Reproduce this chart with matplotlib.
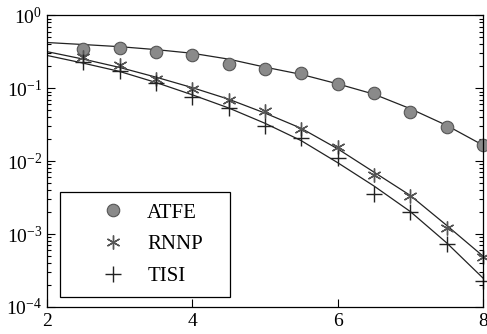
import matplotlib
matplotlib.use("Agg")
from matplotlib import pyplot as plt
from matplotlib.ticker import LogLocator, NullFormatter

plt.rcParams['font.family'] = ['Liberation Serif', 'DejaVu Serif']
plt.rcParams['mathtext.fontset'] = 'custom'
plt.rcParams['mathtext.rm'] = 'Liberation Serif'
plt.rcParams['mathtext.it'] = 'Liberation Serif:italic'

# data points
x_pts = [2.5, 3, 3.5, 4, 4.5, 5, 5.5, 6, 6.5, 7, 7.5, 8]
atfe = [0.35, 0.36, 0.31, 0.29, 0.214, 0.185, 0.161, 0.115, 0.086, 0.047, 0.029, 0.0167]
rnnp = [0.27, 0.21, 0.133, 0.097, 0.068, 0.049, 0.028, 0.0154, 0.0065, 0.0033, 0.0012, 0.00048]
tisi = [0.23, 0.17, 0.117, 0.075, 0.053, 0.030, 0.021, 0.0112, 0.0035, 0.0020, 0.00074, 0.00023]

# fitted curves
x_fit = [2, 2.5, 3, 3.5, 4, 4.5, 5, 5.5, 6, 6.5, 7, 7.5, 8]
atfe_fit = [0.424, 0.398, 0.372, 0.339, 0.302, 0.251, 0.195, 0.155, 0.115, 0.083, 0.0525, 0.031, 0.0166]
rnnp_fit = [0.318, 0.251, 0.193, 0.142, 0.102, 0.0708, 0.0457, 0.0282, 0.0148, 0.00708, 0.00339, 0.00132, 0.00050]
tisi_fit = [0.282, 0.221, 0.170, 0.120, 0.0813, 0.0537, 0.0331, 0.0191, 0.00955, 0.00457, 0.00204, 0.00076, 0.00025]

fig = plt.figure(figsize=(4.87, 3.34), dpi=100)
ax = fig.add_axes([0.0965, 0.081, 0.895, 0.873])

#拟合曲线
ax.plot(x_fit, atfe_fit, color='#222222', lw=0.9)
ax.plot(x_fit, rnnp_fit, color='#222222', lw=0.9)
ax.plot(x_fit, tisi_fit, color='#222222', lw=0.9)

#数据点
ax.plot(x_pts, atfe, 'o', ms=9, mfc='#8a8a8a', mec='#555555', mew=0.8, label='ATFE', clip_on=False)
ax.plot(x_pts, rnnp, ls='none', marker=(6, 2, 0), ms=10, mec='#555555', mew=1.0, label='RNNP', clip_on=False)
ax.plot(x_pts, tisi, '+', ms=12, mec='#222222', mew=1.0, label='TISI', clip_on=False)

ax.set_yscale('log')
ax.set_xlim(2, 8)
ax.set_ylim(1e-4, 1)
ax.set_xticks([2, 4, 6, 8])
ax.yaxis.set_major_locator(LogLocator(base=10, numticks=10))
ax.yaxis.set_minor_locator(LogLocator(base=10, subs=range(2, 10), numticks=10))
ax.yaxis.set_minor_formatter(NullFormatter())

ax.tick_params(axis='both', which='both', direction='in', labelsize=14, width=0.8)
ax.tick_params(axis='y', which='both', left=True, right=True)
ax.tick_params(axis='y', which='major', length=6)
ax.tick_params(axis='y', which='minor', length=3)
ax.tick_params(axis='x', which='major', length=6, pad=4)
for s in ax.spines.values():
    s.set_linewidth(0.9)

#图例
leg = ax.legend(loc='lower left', bbox_to_anchor=(0.03, 0.034, 0.39, 0.35), mode='expand',
                borderaxespad=0, fontsize=15, fancybox=False, edgecolor='black', framealpha=1,
                handlelength=4.0, handletextpad=-0.35, borderpad=0.53, labelspacing=0.58)
leg.get_frame().set_linewidth(0.9)

plt.savefig('out.png', dpi=100)
